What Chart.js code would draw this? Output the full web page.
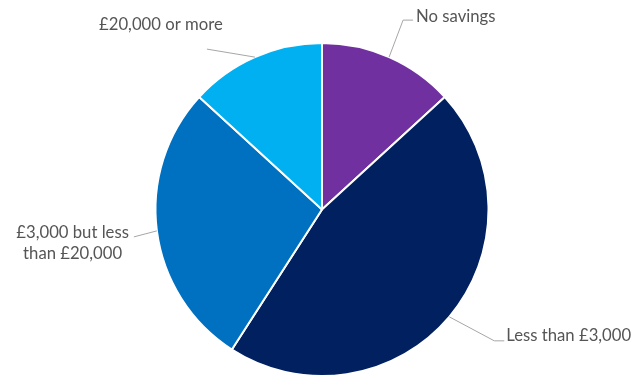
<!DOCTYPE html>
<html>
<head>
<meta charset="utf-8">
<script src="https://cdn.jsdelivr.net/npm/chart.js@4"></script>
<style>
  html, body { margin: 0; padding: 0; background: #fff; }
  #wrap { width: 634px; height: 377px; }
</style>
</head>
<body>
<div id="wrap"><canvas id="myChart" width="634" height="377"></canvas></div>
<script>
const categories = ['No savings', 'Less than £3,000', '£3,000 but less than £20,000', '£20,000 or more']
const shares = [13.2, 45.9, 27.7, 13.2]
const sliceColors = ['#7030A0', '#002060', '#0070C0', '#00B0F0']

// label text lines and leader geometry (elbow offset from slice edge, tail length)
const labelLines = [['No savings'], ['Less than £3,000'], ['£3,000 but less', 'than £20,000'], ['£20,000 or more']]
const leaders = [
    { dx: 14, dy: -37, tail: 10, align: 'left', tx: 3, ty: -3 },
    { dx: 45, dy: 24, tail: 10, align: 'left', tx: 2, ty: -5 },
    { dx: -23, dy: 6, tail: 0, align: 'right', tx: -5, ty: -4 },
    { dx: -48, dy: -8, tail: 0, align: 'center', tx: 0, ty: -24 },
]

const outsideLabels = {
    id: 'outsideLabels',
    afterDatasetsDraw(chart) {
        const ctx = chart.ctx
        const arcs = chart.getDatasetMeta(0).data
        ctx.save()
        ctx.font = '16.7px Lato, "Open Sans", sans-serif'
        ctx.fillStyle = '#555555'
        ctx.strokeStyle = '#A6A6A6'
        ctx.lineWidth = 1
        arcs.forEach((arc, i) => {
            const p = arc.getProps(['x', 'y', 'startAngle', 'endAngle', 'outerRadius'], true)
            const mid = (p.startAngle + p.endAngle) / 2
            const ex = p.x + Math.cos(mid) * p.outerRadius
            const ey = p.y + Math.sin(mid) * p.outerRadius
            const L = leaders[i]
            const bx = ex + L.dx
            const by = ey + L.dy
            const tx = bx + L.tail
            ctx.beginPath()
            ctx.moveTo(ex, ey)
            ctx.lineTo(bx, by)
            ctx.lineTo(tx, by)
            ctx.stroke()
            const lines = labelLines[i]
            const lh = 21
            const x = tx + L.tx
            ctx.textAlign = L.align
            ctx.textBaseline = 'middle'
            let cx = x
            if (L.align === 'right') {
                // centre two-line block under its widest line
                const w = Math.max(...lines.map(s => ctx.measureText(s).width))
                ctx.textAlign = 'center'
                cx = x - w / 2
            }
            if (L.align === 'center') cx = bx - 46
            lines.forEach((s, k) => {
                ctx.fillText(s, cx, by + L.ty + k * lh)
            })
        })
        ctx.restore()
    }
}

function render_chart() {
    const data = {
        labels: categories,
        datasets: [
            {
                data: shares,
                backgroundColor: sliceColors,
                borderColor: '#ffffff',
                borderWidth: 2,
            },
        ],
    }

    const config = {
        type: 'pie',
        data: data,
        options: {
            responsive: false,
            animation: false,
            layout: { padding: { top: 42, bottom: -1, left: 10, right: 0 } },
            plugins: {
                legend: { display: false },
                tooltip: { enabled: false },
            },
        },
        plugins: [outsideLabels],
    }

    const myChart = new Chart(document.getElementById('myChart'), config)
}

document.addEventListener('DOMContentLoaded', render_chart)
</script>
</body>
</html>
